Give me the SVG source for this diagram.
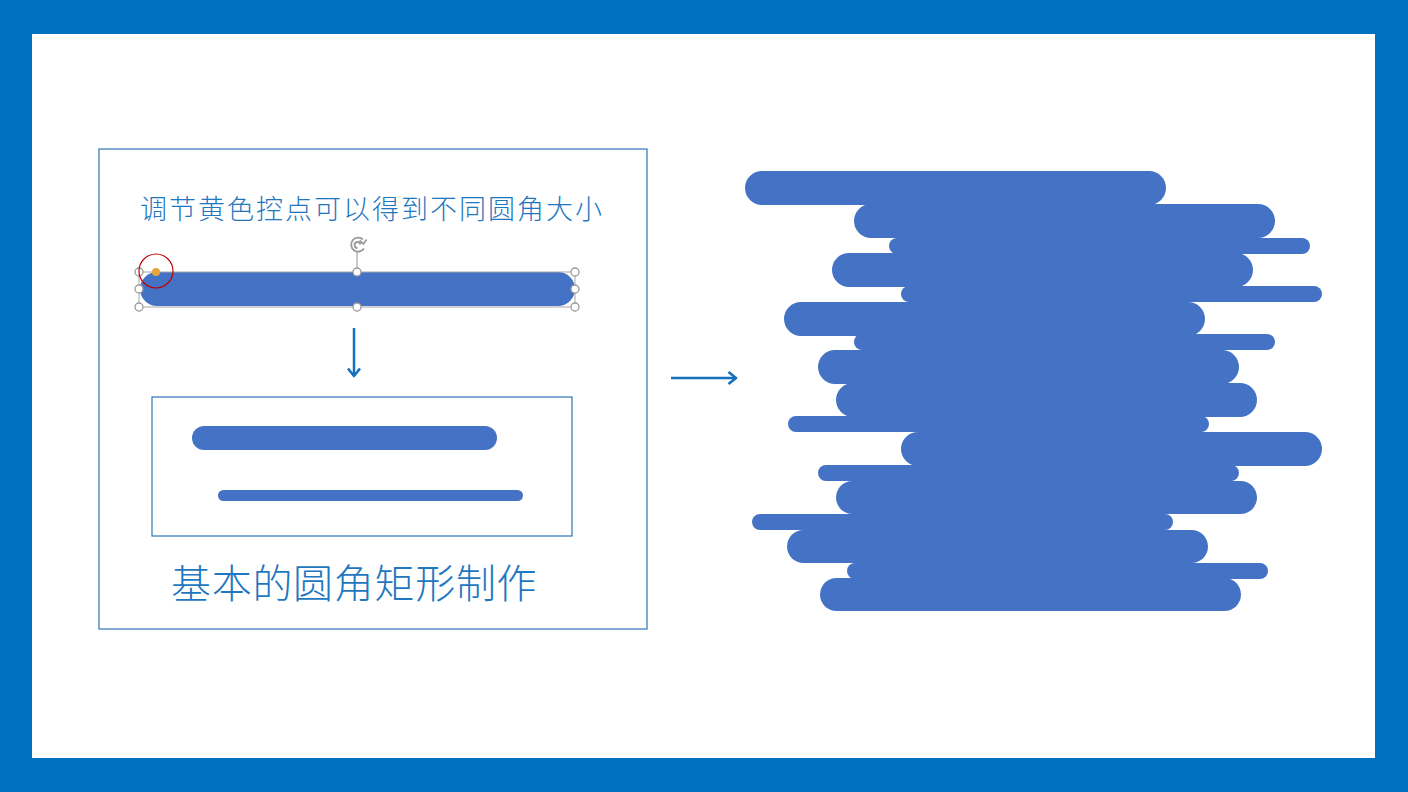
<svg xmlns="http://www.w3.org/2000/svg" width="1408" height="792" viewBox="0 0 1408 792">
  <defs>
    <style>
      .bar { fill: #4472C4; }
      .panel { fill: none; stroke: #2E75B6; stroke-width: 1.2; }
      .txt { fill: #1F77C0; font-family: "Microsoft YaHei", "Noto Sans CJK SC", sans-serif; font-weight: 300; }
      .handle { fill: #ffffff; stroke: #9A9A9A; stroke-width: 1.3; }
      .conn { stroke: #1570BE; stroke-width: 2.5; fill: none; }
    </style>
    <marker id="ah" markerWidth="12" markerHeight="14" refX="9" refY="7" orient="auto" markerUnits="userSpaceOnUse">
      <path d="M1.5,1 L9,7 L1.5,13" fill="none" stroke="#1570BE" stroke-width="2.6" stroke-linejoin="round"/>
    </marker>
  </defs>

  <rect x="0" y="0" width="1408" height="792" fill="#0070C0"/>
  <rect x="32" y="34" width="1343" height="724" fill="#ffffff"/>

  <g id="left-panel">
    <rect class="panel" x="99" y="149" width="548" height="480"/>
    <text class="txt" x="140" y="219" font-size="27" letter-spacing="2">调节黄色控点可以得到不同圆角大小</text>
  </g>

  <g id="selected-shape">
    <rect class="bar" x="140" y="272" width="435" height="34" rx="17"/>
    <rect x="139" y="272" width="436" height="35" fill="none" stroke="#A6A6A6" stroke-width="1"/>
    <line x1="357" y1="252" x2="357" y2="272" stroke="#A6A6A6" stroke-width="1.2"/>
    <g fill="none" stroke="#9A9A9A" stroke-width="1.8">
      <path d="M364,248.5 A7,7 0 1 1 363,239.5"/>
      <path d="M357.5,248 A3,3 0 1 1 360.5,244.5"/>
      <path d="M359.5,240.5 L363.5,244 L366.5,239.5"/>
    </g>
    <circle class="handle" cx="139" cy="272" r="4"/>
    <circle class="handle" cx="357" cy="272" r="4"/>
    <circle class="handle" cx="575" cy="272" r="4"/>
    <circle class="handle" cx="139" cy="289" r="4"/>
    <circle class="handle" cx="575" cy="289" r="4"/>
    <circle class="handle" cx="139" cy="307" r="4"/>
    <circle class="handle" cx="357" cy="307" r="4"/>
    <circle class="handle" cx="575" cy="307" r="4"/>
    <circle cx="156" cy="272" r="4" fill="#E8A33A"/>
    <circle cx="156" cy="271" r="17" fill="none" stroke="#C00000" stroke-width="1.2"/>
  </g>

  <g id="result-box">
    <rect class="panel" x="152" y="397" width="420" height="139"/>
    <rect class="bar" x="192" y="426" width="305" height="24" rx="12"/>
    <rect class="bar" x="218" y="490" width="305" height="11" rx="5.5"/>
  </g>

  <g id="caption">
    <text class="txt" x="171" y="598" font-size="40" letter-spacing="0.7">基本的圆角矩形制作</text>
  </g>

  <g id="stack">
    <rect class="bar" x="745" y="171" width="421" height="34" rx="17"/>
    <rect class="bar" x="854" y="204" width="421" height="34" rx="17"/>
    <rect class="bar" x="889" y="238" width="421" height="16" rx="8"/>
    <rect class="bar" x="832" y="253" width="421" height="34" rx="17"/>
    <rect class="bar" x="901" y="286" width="421" height="16" rx="8"/>
    <rect class="bar" x="784" y="302" width="421" height="34" rx="17"/>
    <rect class="bar" x="854" y="334" width="421" height="16" rx="8"/>
    <rect class="bar" x="818" y="350" width="421" height="34" rx="17"/>
    <rect class="bar" x="836" y="383" width="421" height="34" rx="17"/>
    <rect class="bar" x="788" y="416" width="421" height="16" rx="8"/>
    <rect class="bar" x="901" y="432" width="421" height="34" rx="17"/>
    <rect class="bar" x="818" y="465" width="421" height="16" rx="8"/>
    <rect class="bar" x="836" y="481" width="421" height="33" rx="16.5"/>
    <rect class="bar" x="752" y="514" width="421" height="16" rx="8"/>
    <rect class="bar" x="787" y="530" width="421" height="33" rx="16.5"/>
    <rect class="bar" x="847" y="563" width="421" height="16" rx="8"/>
    <rect class="bar" x="820" y="578" width="421" height="33" rx="16.5"/>
  </g>

  <g id="connectors">
    <line class="conn" x1="354" y1="328" x2="354" y2="376" marker-end="url(#ah)"/>
    <line class="conn" x1="671" y1="378" x2="736" y2="378" marker-end="url(#ah)"/>
  </g>
</svg>
